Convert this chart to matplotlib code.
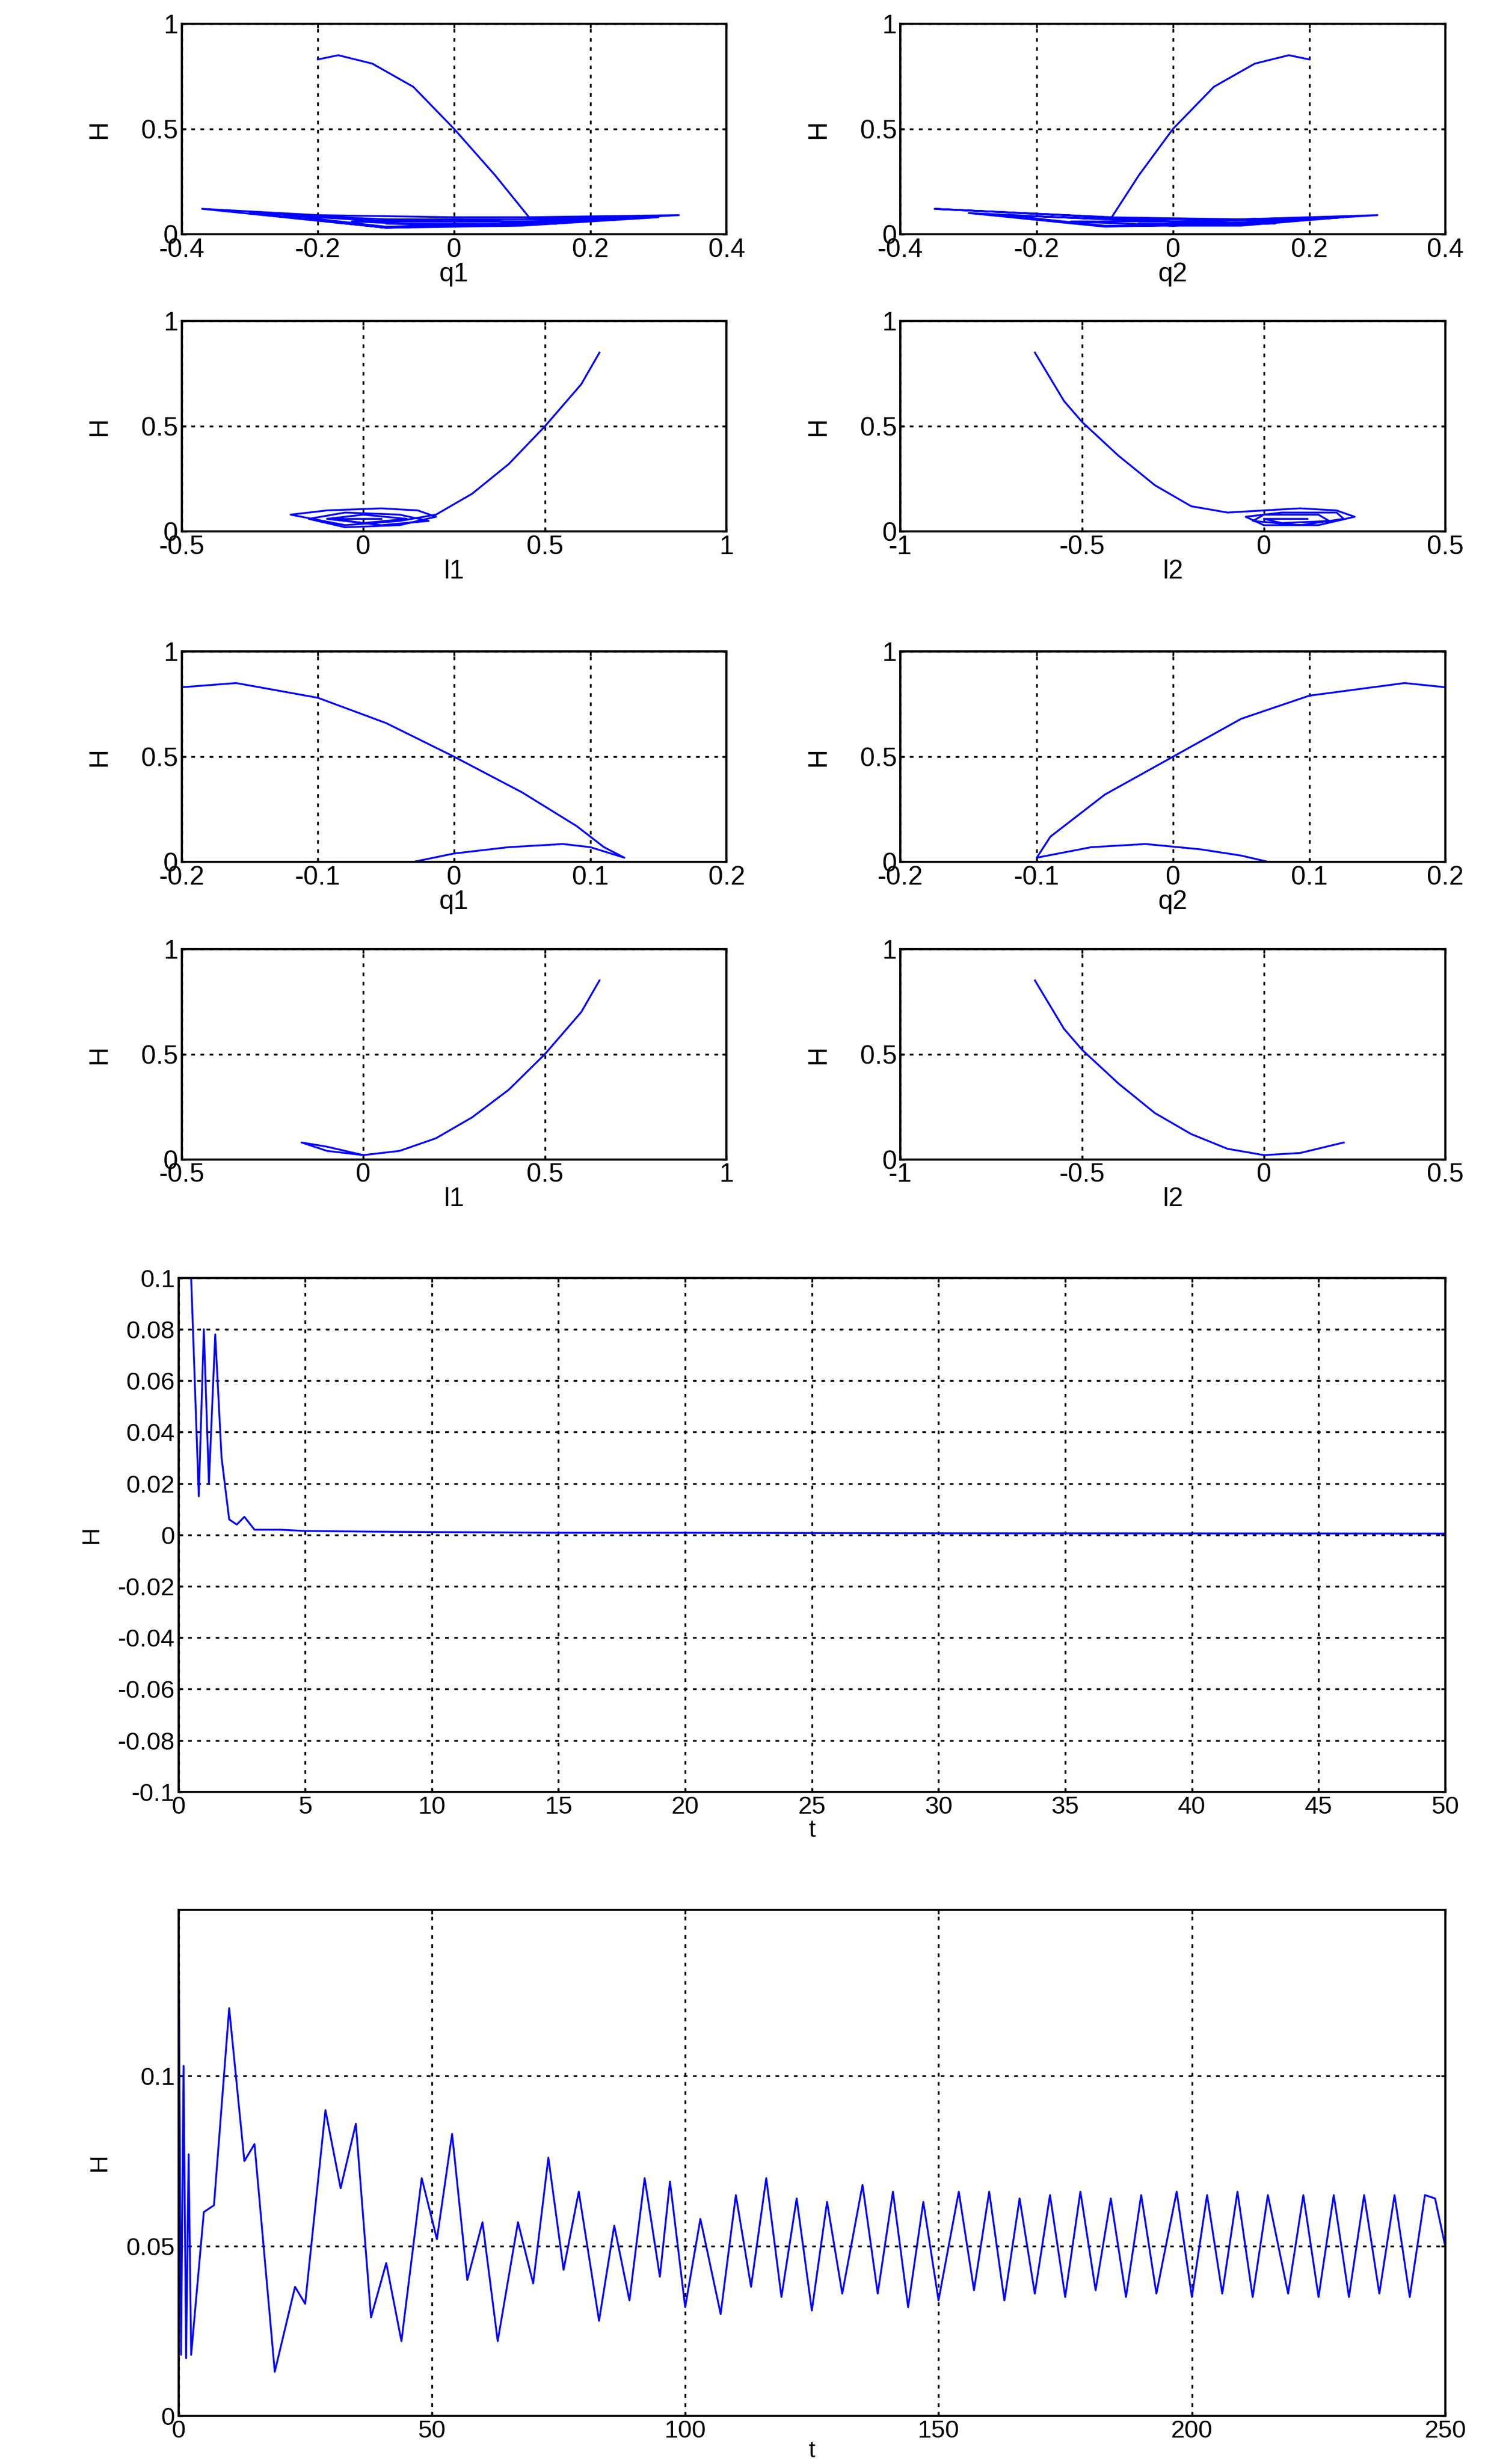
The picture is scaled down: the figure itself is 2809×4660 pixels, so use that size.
import matplotlib
matplotlib.use("Agg")
import matplotlib.pyplot as plt
import numpy as np

plt.rcParams['font.family'] = ['Liberation Sans', 'DejaVu Sans']

# ---- phase-plot data (hand-read) ----
q1_a = [-0.2,-0.17,-0.12,-0.06,0.0,0.06,0.11,0.33,0.1,-0.1,-0.37,-0.2,0.0,0.2,0.3,0.1,-0.1,-0.3,-0.1,0.1,0.28,0.1,-0.1,-0.25,-0.1,0.1,0.2,0.0,-0.15,0.0,0.15,0.0,-0.1,0.1]
H_q1_a = [0.83,0.85,0.81,0.70,0.50,0.28,0.08,0.09,0.05,0.03,0.12,0.09,0.08,0.08,0.08,0.04,0.03,0.10,0.07,0.07,0.08,0.05,0.035,0.09,0.06,0.06,0.07,0.04,0.06,0.07,0.05,0.04,0.05,0.05]
q2_a = [0.2,0.17,0.12,0.06,0.0,-0.05,-0.09,-0.35,-0.1,0.1,0.3,0.1,-0.1,-0.3,-0.1,0.1,0.25,0.1,-0.1,-0.25,0.0,0.2,0.0,-0.15,0.0,0.15,-0.05]
H_q2_a = [0.83,0.85,0.81,0.70,0.50,0.28,0.08,0.12,0.08,0.07,0.09,0.05,0.035,0.10,0.07,0.07,0.08,0.04,0.04,0.09,0.06,0.07,0.04,0.06,0.06,0.05,0.05]
l1_a = [0.65,0.6,0.5,0.4,0.3,0.2,0.1,-0.05,-0.2,-0.1,0.05,0.15,0.2,0.1,-0.05,-0.15,-0.05,0.1,0.18,0.05,-0.1,0.0,0.12,0.0,-0.08,0.05]
H_l1_a = [0.85,0.7,0.5,0.32,0.18,0.08,0.05,0.03,0.08,0.1,0.11,0.1,0.07,0.03,0.02,0.06,0.09,0.08,0.05,0.03,0.06,0.08,0.06,0.04,0.06,0.06]
l2_a = [-0.63,-0.55,-0.5,-0.4,-0.3,-0.2,-0.1,0.0,0.1,0.2,0.25,0.15,0.0,-0.05,0.05,0.2,0.22,0.1,-0.03,0.0,0.15,0.18,0.05,0.0,0.12]
H_l2_a = [0.85,0.62,0.52,0.36,0.22,0.12,0.09,0.1,0.11,0.1,0.07,0.03,0.03,0.07,0.09,0.09,0.06,0.03,0.05,0.08,0.08,0.05,0.04,0.06,0.06]

q1_b = [-0.2,-0.16,-0.1,-0.05,0.0,0.05,0.09,0.11,0.125,0.1,0.08,0.04,0.0,-0.03]
H_q1_b = [0.83,0.85,0.78,0.66,0.50,0.33,0.17,0.07,0.02,0.07,0.085,0.07,0.04,0.0]
q2_b = [0.2,0.17,0.1,0.05,0.0,-0.05,-0.09,-0.1,-0.06,-0.02,0.02,0.05,0.07]
H_q2_b = [0.83,0.85,0.79,0.68,0.50,0.32,0.12,0.02,0.07,0.085,0.06,0.03,0.0]
l1_b = [0.65,0.6,0.5,0.4,0.3,0.2,0.1,0.0,-0.1,-0.17,-0.1,0.0]
H_l1_b = [0.85,0.7,0.5,0.33,0.2,0.1,0.04,0.02,0.04,0.08,0.06,0.02]
l2_b = [-0.63,-0.55,-0.5,-0.4,-0.3,-0.2,-0.1,0.0,0.1,0.22]
H_l2_b = [0.85,0.62,0.52,0.36,0.22,0.12,0.05,0.02,0.03,0.08]

# ---- time series (hand-read extrema) ----
t5 = [0.5,0.8,1.0,1.2,1.45,1.7,2.0,2.3,2.6,3.0,4.0,5.0,8.0,15,20,30,50]
H5 = [0.1,0.015,0.08,0.02,0.078,0.03,0.006,0.004,0.007,0.002,0.002,0.0015,0.0012,0.0008,0.0008,0.0006,0.0005]

t6 = [0,0.5,1,1.5,2,2.5,5,7,10,13,15,19,23,25,29,32,35,38,41,44,48,51,54,57,60,63,67,70,73,76,79,83,86,89,92,95,97,100,
      103,107,110,113,116,119,122,125,128,131,135,138,141,144,147,150,154,157,160,163,166,169,172,175,
      178,181,184,187,190,193,197,200,203,206,209,212,215,219,222,225,228,231,234,237,240,243,246,248,250]
H6 = [0.149,0.018,0.103,0.017,0.077,0.018,0.06,0.062,0.12,0.075,0.08,0.013,0.038,0.033,0.09,0.067,0.086,0.029,0.045,0.022,0.07,0.052,0.083,0.04,0.057,0.022,0.057,0.039,0.076,0.043,0.066,0.028,0.056,0.034,0.07,0.041,0.069,0.032,
      0.058,0.03,0.065,0.038,0.07,0.035,0.064,0.031,0.063,0.036,0.068,0.036,0.066,0.032,0.063,0.034,0.066,0.037,0.066,0.034,0.064,0.036,0.065,0.035,
      0.066,0.037,0.064,0.035,0.065,0.036,0.066,0.035,0.065,0.036,0.066,0.035,0.065,0.036,0.065,0.035,0.065,0.035,0.065,0.036,0.065,0.035,0.065,0.064,0.05]

fig = plt.figure(figsize=(28.09, 46.60), dpi=100)

def style(ax, fs=36):
    ax.grid(True, color='black', linestyle=(0, (2, 3)), linewidth=2.5)
    for s in ax.spines.values():
        s.set_linewidth(3)
    ax.tick_params(direction='in', length=6, width=2.5, labelsize=fs, top=True, right=True, pad=5)

def phase(rect, x, y, xlim, xticks, xlabel):
    ax = fig.add_axes(rect)
    ax.plot(x, y, color='blue', linewidth=2.5)
    ax.set_xlim(*xlim); ax.set_ylim(0, 1)
    ax.set_xticks(xticks); ax.set_yticks([0, 0.5, 1])
    ax.set_xticklabels([('%g' % v) for v in xticks])
    ax.set_yticklabels(['0', '0.5', '1'])
    ax.set_xlabel(xlabel, fontsize=36, labelpad=0)
    ax.set_ylabel('H', fontsize=36, labelpad=40)
    style(ax)
    return ax

L, R, W, Hh = 0.1223, 0.6064, 0.367, 0.0854
phase([L, 0.905, W, Hh], q1_a, H_q1_a, (-0.4, 0.4), [-0.4,-0.2,0,0.2,0.4], 'q1')
phase([R, 0.905, W, Hh], q2_a, H_q2_a, (-0.4, 0.4), [-0.4,-0.2,0,0.2,0.4], 'q2')
phase([L, 0.7843, W, Hh], l1_a, H_l1_a, (-0.5, 1), [-0.5,0,0.5,1], 'l1')
phase([R, 0.7843, W, Hh], l2_a, H_l2_a, (-1, 0.5), [-1,-0.5,0,0.5], 'l2')
phase([L, 0.6502, W, Hh], q1_b, H_q1_b, (-0.2, 0.2), [-0.2,-0.1,0,0.1,0.2], 'q1')
phase([R, 0.6502, W, Hh], q2_b, H_q2_b, (-0.2, 0.2), [-0.2,-0.1,0,0.1,0.2], 'q2')
phase([L, 0.5295, W, Hh], l1_b, H_l1_b, (-0.5, 1), [-0.5,0,0.5,1], 'l1')
phase([R, 0.5295, W, Hh], l2_b, H_l2_b, (-1, 0.5), [-1,-0.5,0,0.5], 'l2')

ax5 = fig.add_axes([0.1202, 0.2728, 0.853, 0.2086])
ax5.plot(t5, H5, color='blue', linewidth=2.5)
ax5.set_xlim(0, 50); ax5.set_ylim(-0.1, 0.1)
ax5.set_xticks(np.arange(0, 51, 5))
yt5 = [-0.1,-0.08,-0.06,-0.04,-0.02,0,0.02,0.04,0.06,0.08,0.1]
ax5.set_yticks(yt5); ax5.set_yticklabels([('%g' % v) for v in yt5])
ax5.set_xlabel('t', fontsize=34, labelpad=0)
ax5.set_ylabel('H', fontsize=34, labelpad=20)
style(ax5, 34)

ax6 = fig.add_axes([0.1202, 0.0195, 0.853, 0.2055])
ax6.plot(t6, H6, color='blue', linewidth=2.5)
ax6.set_xlim(0, 250); ax6.set_ylim(0, 0.149)
ax6.set_xticks([0,50,100,150,200,250]); ax6.set_yticks([0, 0.05, 0.1])
ax6.set_yticklabels(['0', '0.05', '0.1'])
ax6.set_xlabel('t', fontsize=32, labelpad=-4)
ax6.set_ylabel('H', fontsize=34, labelpad=20)
style(ax6, 34)

fig.savefig('out.png', dpi=100)
